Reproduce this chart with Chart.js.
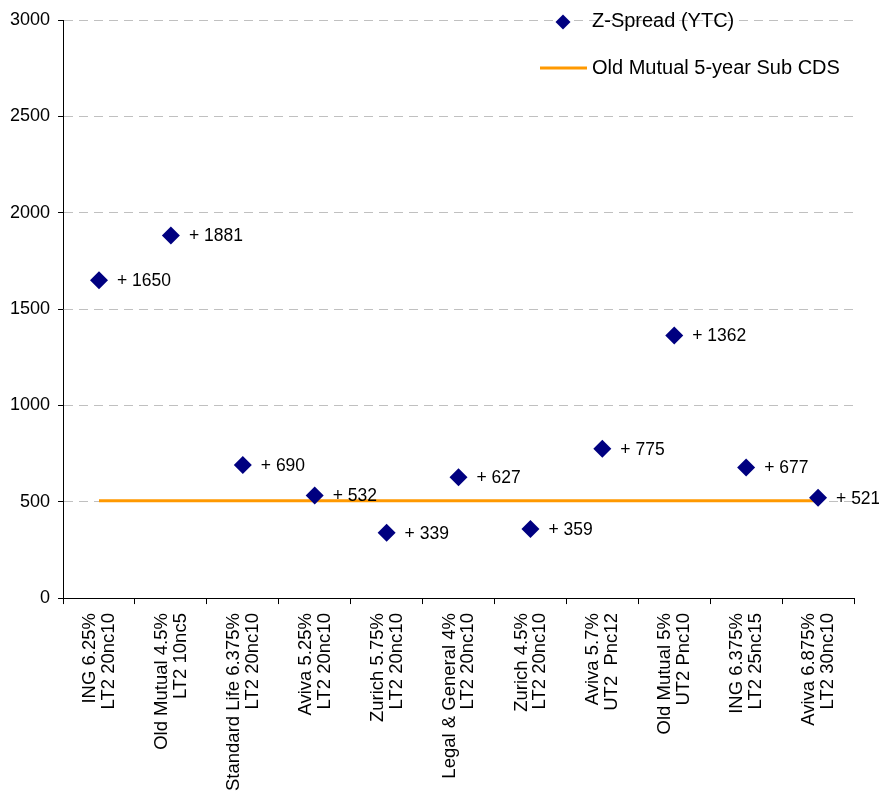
<!DOCTYPE html>
<html>
<head>
<meta charset="utf-8">
<script src="https://cdn.jsdelivr.net/npm/chart.js@4"></script>
<style>
  html, body { margin: 0; padding: 0; background: #fff; }
  #wrap { width: 879px; height: 792px; }
</style>
</head>
<body>
<div id="wrap"><canvas id="chart"></canvas></div>
<script>
// Data
const bonds = [
    ['ING 6.25%', 'LT2 20nc10'],
    ['Old Mutual 4.5%', 'LT2 10nc5'],
    ['Standard Life 6.375%', 'LT2 20nc10'],
    ['Aviva 5.25%', 'LT2 20nc10'],
    ['Zurich 5.75%', 'LT2 20nc10'],
    ['Legal & General 4%', 'LT2 20nc10'],
    ['Zurich 4.5%', 'LT2 20nc10'],
    ['Aviva 5.7%', 'UT2  Pnc12'],
    ['Old Mutual 5%', 'UT2 Pnc10'],
    ['ING 6.375%', 'LT2 25nc15'],
    ['Aviva 6.875%', 'LT2 30nc10']
];
const zSpread = [1650, 1881, 690, 532, 339, 627, 359, 775, 1362, 677, 521];
const cdsLevel = 505;
const cdsLine = bonds.map(() => cdsLevel);

const yTicks = { min: 0, max: 3000, step: 500 };

const FONT = 'Liberation Sans, Arial, sans-serif';
const NAVY = '#000080';
const ORANGE = '#FF9900';

// Labels "+ 1650" right of each diamond
const pointLabels = {
    id: 'pointLabels',
    afterDatasetsDraw(chart) {
        const ctx = chart.ctx;
        const meta = chart.getDatasetMeta(0);
        ctx.save();
        ctx.font = '17.5px ' + FONT;
        ctx.fillStyle = '#000';
        ctx.textBaseline = 'middle';
        ctx.textAlign = 'left';
        meta.data.forEach((pt, i) => {
            ctx.fillText('+ ' + zSpread[i], pt.x + 18, pt.y + 1);
        });
        ctx.restore();
    }
};

// Legend drawn in the top right corner, over the plot
const cornerLegend = {
    id: 'cornerLegend',
    afterDraw(chart) {
        const ctx = chart.ctx;
        const x = chart.width - 287;
        ctx.save();
        ctx.font = '20px ' + FONT;
        ctx.textBaseline = 'middle';

        // diamond
        ctx.fillStyle = NAVY;
        ctx.beginPath();
        ctx.moveTo(x - 29, 14.5);
        ctx.lineTo(x - 21.5, 22);
        ctx.lineTo(x - 29, 29.5);
        ctx.lineTo(x - 36.5, 22);
        ctx.closePath();
        ctx.fill();
        ctx.fillStyle = '#000';
        ctx.fillText(chart.data.datasets[0].label, x, 21);

        // orange line
        ctx.strokeStyle = ORANGE;
        ctx.lineWidth = 3;
        ctx.beginPath();
        ctx.moveTo(x - 52, 68);
        ctx.lineTo(x - 5, 68);
        ctx.stroke();
        ctx.fillText(chart.data.datasets[1].label, x, 68);
        ctx.restore();
    }
};

const ctx = document.getElementById('chart').getContext('2d');
const chart = new Chart(ctx, {
    type: 'line',
    data: {
        labels: bonds,
        datasets: [
            {
                label: 'Z-Spread (YTC)',
                data: zSpread,
                showLine: false,
                pointStyle: 'rectRot',
                pointRadius: 9,
                pointHoverRadius: 9,
                backgroundColor: NAVY,
                borderColor: NAVY,
                borderWidth: 0,
                order: 0
            },
            {
                label: 'Old Mutual 5-year Sub CDS',
                data: cdsLine,
                borderColor: ORANGE,
                borderWidth: 3,
                pointRadius: 0,
                pointHoverRadius: 0,
                fill: false,
                order: 1
            }
        ]
    },
    options: {
        responsive: true,
        maintainAspectRatio: false,
        animation: false,
        layout: {
            padding: { left: 2, top: 20, right: 25, bottom: -8 }
        },
        plugins: {
            legend: { display: false },
            tooltip: { enabled: false }
        },
        scales: {
            x: {
                offset: true,
                grid: {
                    offset: true,
                    drawOnChartArea: false,
                    drawTicks: true,
                    tickLength: 6,
                    tickColor: '#000'
                },
                border: { color: '#000', width: 1 },
                ticks: {
                    color: '#000',
                    minRotation: 90,
                    maxRotation: 90,
                    padding: 9,
                    labelOffset: -9,
                    autoSkip: false,
                    font: { family: FONT, size: 18.5, lineHeight: 1.02 }
                }
            },
            y: {
                min: yTicks.min,
                max: yTicks.max,
                grid: {
                    color: '#c0c0c0',
                    tickColor: '#000',
                    tickLength: 5,
                    tickBorderDash: [],
                    lineWidth: 1
                },
                border: { color: '#000', width: 1, dash: [9, 6] },
                ticks: {
                    stepSize: yTicks.step,
                    color: '#000',
                    padding: 8,
                    callback: v => String(v),
                    font: { family: FONT, size: 18 }
                }
            }
        }
    },
    plugins: [pointLabels, cornerLegend]
});
</script>
</body>
</html>
